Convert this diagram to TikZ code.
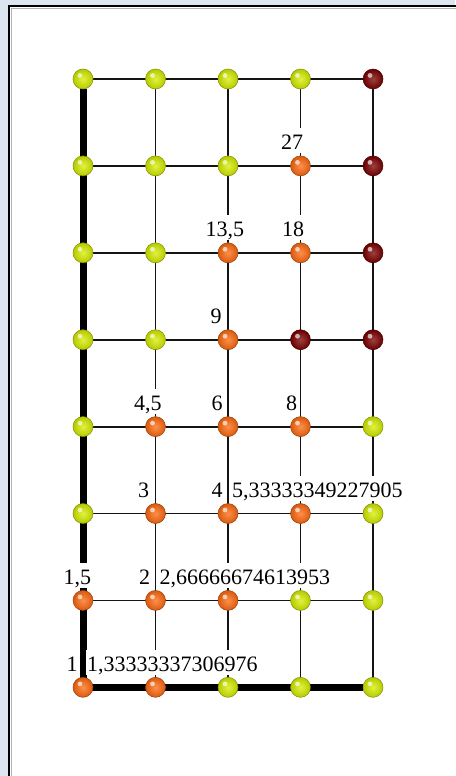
\documentclass[tikz,border=0pt]{standalone}
\usepackage{fontspec}
\setmainfont{Liberation Serif}
\usetikzlibrary{positioning,calc}

\definecolor{pagebg}{RGB}{221,230,240}
\definecolor{yel}{RGB}{214,238,0}
\definecolor{org}{RGB}{255,106,16}
\definecolor{mar}{RGB}{125,0,0}
\definecolor{linegray}{RGB}{20,20,20}

\pgfdeclarelayer{bg}
\pgfdeclarelayer{lines}
\pgfdeclarelayer{labels}
\pgfsetlayers{bg,lines,labels,main}

\tikzset{
  ball/.style={circle, inner sep=0pt, minimum size=20pt,
    shading=radial, inner color=#1!75!white, outer color=#1!85!black,
    draw=#1!60!black, line width=0.5pt,
    path picture={\fill[white, opacity=0.65]
      ($(path picture bounding box.center)+(-3pt,3.5pt)$) circle (2.4pt);}},
  gridline/.style={draw=linegray, line width=1.8pt},
  heavy/.style={draw=black, line width=7pt},
  val/.style={fill=white, anchor=base west, inner xsep=1.5pt, inner ysep=1.5pt,
    text height=20pt, text depth=2pt, font=\fontsize{22}{26}\selectfont}
}

\begin{document}
\begin{tikzpicture}[x=1pt, y=-1pt]

  \useasboundingbox (0,0) rectangle (455,776);

  % page and panel
  \begin{pgfonlayer}{bg}
    \fill[pagebg] (0,0) rectangle (455,776);
    \draw[line width=2pt, fill=white] (9,6) rectangle (470,790);
    \draw[gray!60, line width=1pt] (11.5,8.5) -- (11.5,790);
    \draw[gray!60, line width=1pt] (11.5,8.5) -- (470,8.5);
  \end{pgfonlayer}

  % grid nodes, one row per list
  \foreach \row [count=\r from 0] in {
      {yel,yel,yel,yel,mar},
      {yel,yel,yel,org,mar},
      {yel,yel,org,org,mar},
      {yel,yel,org,mar,mar},
      {yel,org,org,org,yel},
      {yel,org,org,org,yel},
      {org,org,org,yel,yel},
      {org,org,yel,yel,yel}}
    \foreach \clr [count=\c from 0] in \row
      \node[ball=\clr] (n-\r-\c) at ({83+72.5*\c},{79+86.9*\r}) {};

  % connectors
  \begin{pgfonlayer}{lines}
    \foreach \r in {0,1,2,3,4,5,6}{
      \foreach \c/\cn in {0/1,1/2,2/3,3/4}{
        \draw[gridline] (n-\r-\c.center) -- (n-\r-\cn.center);
      }
    }
    \foreach \c in {1,2,3,4}{
      \foreach \r/\rn in {0/1,1/2,2/3,3/4,4/5,5/6,6/7}{
        \draw[gridline] (n-\r-\c.center) -- (n-\rn-\c.center);
      }
    }
    \draw[heavy] (n-0-0) -- (n-7-0.center);
    \draw[heavy] (n-7-0.center) -- (n-7-4);
  \end{pgfonlayer}

  % values above the nodes
  \begin{pgfonlayer}{labels}
    \foreach \r/\c/\dx/\txt in {
        1/3/-21/27,
        2/2/-24/{13,5},
        2/3/-20/18,
        3/2/-19/9,
        4/1/-23/{4,5},
        4/2/-18/6,
        4/3/-16/8,
        5/1/-19/3,
        5/2/-18/4,
        5/3/-70/{5,33333349227905},
        6/0/-21/{1,5},
        6/1/-18/2,
        6/2/-70/{2,66666674613953},
        7/0/-18/1,
        7/1/-70/{1,33333337306976}}
      \node[val, xshift=\dx pt, yshift=16pt] (v-\r-\c) at (n-\r-\c) {\txt};
  \end{pgfonlayer}

\end{tikzpicture}
\end{document}
